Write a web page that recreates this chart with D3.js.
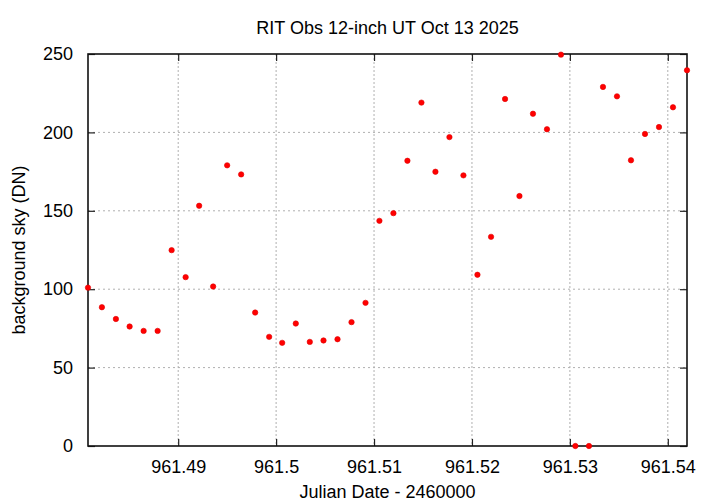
<!DOCTYPE html>
<html>
<head>
<meta charset="utf-8">
<script src="https://cdn.jsdelivr.net/npm/d3@7"></script>
<style>
  body { margin: 0; background: #fff; }
  text { font-family: "Liberation Sans", Arial, sans-serif; }
</style>
</head>
<body>
<svg id="chart"></svg>
<script>
const width = 720;
const height = 504;

// Julian Date - 2460000
const jd = [
  961.48079, 961.48221, 961.48364, 961.48504, 961.48647, 961.48790, 961.48933, 961.49076,
  961.49214, 961.49357, 961.49500, 961.49643, 961.49786, 961.49929, 961.50062, 961.50201,
  961.50344, 961.50484, 961.50627, 961.50770, 961.50913, 961.51055, 961.51198, 961.51341,
  961.51484, 961.51627, 961.51770, 961.51913, 961.52056, 961.52195, 961.52338, 961.52485,
  961.52623, 961.52766, 961.52909, 961.53056, 961.53195, 961.53338, 961.53481, 961.53624,
  961.53767, 961.53910, 961.54053, 961.54196
];
// background sky (DN)
const sky = [
  101, 88.5, 81, 76.2, 73.4, 73.4, 124.9, 107.7,
  153.2, 101.7, 179, 173.2, 85.1, 69.6, 65.8, 78.1,
  66.4, 67.3, 68.1, 79, 91.3, 143.6, 148.5, 181.9,
  219, 174.9, 197, 172.6, 109.2, 133.4, 221.3, 159.4,
  211.9, 202, 249.6, 0, 0, 229, 223, 182.2,
  199, 203.4, 216, 239.6
];
const xTicks = [961.49, 961.50, 961.51, 961.52, 961.53, 961.54];
const yTicks = [0, 50, 100, 150, 200, 250];

const margin = { top: 54, right: 33, bottom: 58, left: 88 };
const iw = width - margin.left - margin.right;
const ih = height - margin.top - margin.bottom;

const svg = d3.select('#chart')
  .attr('width', width)
  .attr('height', height);

const g = svg.append('g')
  .attr('transform', `translate(${margin.left},${margin.top})`);

const x = d3.scaleLinear().domain(d3.extent(jd)).range([0, iw]);
const y = d3.scaleLinear().domain([0, 250]).range([ih, 0]);

// grid
g.selectAll('.vgrid')
  .data(xTicks).join('line')
  .attr('x1', d => x(d)).attr('x2', d => x(d))
  .attr('y1', 0).attr('y2', ih)
  .attr('stroke', '#b0b0b0')
  .attr('stroke-width', 1)
  .attr('stroke-dasharray', '2,2');

g.selectAll('.hgrid')
  .data(yTicks.slice(1, -1)).join('line')
  .attr('x1', 0).attr('x2', iw)
  .attr('y1', d => y(d)).attr('y2', d => y(d))
  .attr('stroke', '#b0b0b0')
  .attr('stroke-width', 1)
  .attr('stroke-dasharray', '2,3');

// axes (ticks inward, mirrored)
const tickLen = 7;
const fmt = d => String(+d.toFixed(2));

const xb = g.append('g').attr('transform', `translate(0,${ih})`)
  .call(d3.axisBottom(x).tickValues(xTicks).tickFormat(fmt).tickSize(-tickLen).tickPadding(14));
const xt = g.append('g')
  .call(d3.axisTop(x).tickValues(xTicks).tickFormat('').tickSize(-tickLen));
const yl = g.append('g')
  .call(d3.axisLeft(y).tickValues(yTicks).tickSize(-tickLen).tickPadding(15));
const yr = g.append('g').attr('transform', `translate(${iw},0)`)
  .call(d3.axisRight(y).tickValues(yTicks).tickFormat('').tickSize(-tickLen));

[xb, xt, yl, yr].forEach(a => {
  a.select('.domain').remove();
  a.selectAll('.tick line').attr('stroke', '#222').attr('stroke-width', 1.2);
  a.selectAll('.tick text').attr('font-size', 18).attr('fill', '#000')
    .attr('font-family', '"Liberation Sans", Arial, sans-serif');
});

// frame
g.append('rect')
  .attr('width', iw).attr('height', ih)
  .attr('fill', 'none')
  .attr('stroke', '#111')
  .attr('stroke-width', 1.6);

// points
g.selectAll('.pt')
  .data(jd.map((d, i) => [d, sky[i]])).join('circle')
  .attr('cx', d => x(d[0]))
  .attr('cy', d => y(d[1]))
  .attr('r', 2.7)
  .attr('fill', '#ff0000')
  .attr('stroke', '#e00000')
  .attr('stroke-width', 0.6);

// title and labels
svg.append('text')
  .attr('x', margin.left + iw / 2).attr('y', 34)
  .attr('text-anchor', 'middle')
  .attr('font-size', 18)
  .text('RIT Obs 12-inch UT Oct 13 2025');

svg.append('text')
  .attr('x', margin.left + iw / 2).attr('y', 498)
  .attr('text-anchor', 'middle')
  .attr('font-size', 18)
  .text('Julian Date - 2460000');

svg.append('text')
  .attr('transform', `translate(25,${margin.top + ih / 2}) rotate(-90)`)
  .attr('text-anchor', 'middle')
  .attr('font-size', 18)
  .text('background sky (DN)');
</script>
</body>
</html>
